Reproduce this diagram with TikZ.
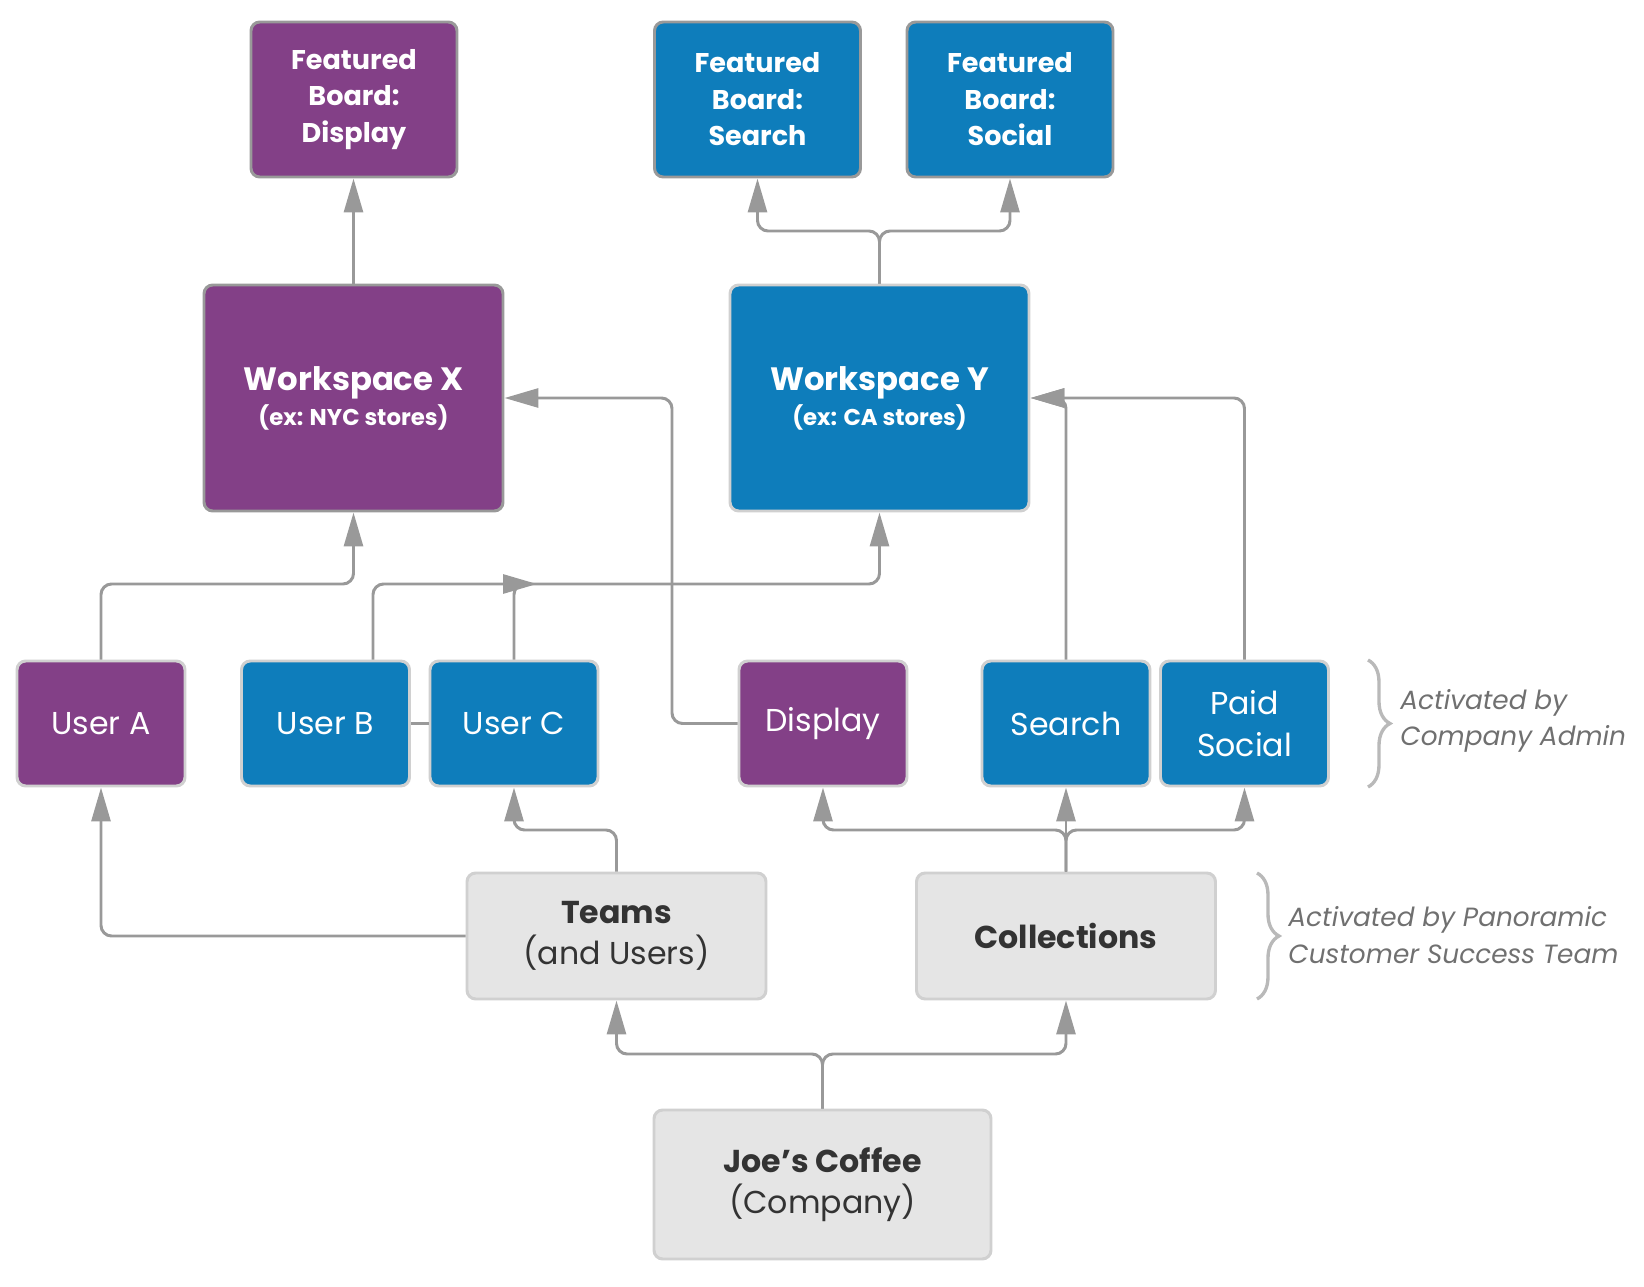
\documentclass[tikz,border=0pt]{standalone}
\usepackage{fontspec}
\setmainfont{Poppins}
\usetikzlibrary{arrows.meta,positioning,decorations.pathreplacing}
\definecolor{plum}{RGB}{131,64,135}
\definecolor{ocean}{RGB}{14,125,187}
\definecolor{ink}{RGB}{51,51,51}
\definecolor{wire}{RGB}{153,153,153}
\definecolor{rim}{RGB}{208,208,208}
\definecolor{paper}{RGB}{229,229,229}
\definecolor{remark}{RGB}{112,112,112}
\definecolor{bracket}{RGB}{185,185,185}
\tikzset{
  >={Triangle[length=3.4mm,width=1.9mm]},
  flow/.style={->,draw=wire,line width=0.85pt,rounded corners=3pt},
  link/.style={draw=wire,line width=0.85pt},
  tile/.style={fill=#1,draw=rim,line width=0.85pt,rounded corners=2.5pt,text=white,
    align=center,inner sep=2pt,minimum width=16.8mm,minimum height=12.5mm,
    font=\fontsize{9}{11.8}\selectfont},
  tile/.default=ocean,
  board/.style={tile=#1,draw=wire,minimum width=20.6mm,minimum height=15.5mm,
    font=\bfseries\fontsize{7.7}{10.4}\selectfont},
  space/.style={tile=#1,minimum width=29.9mm,minimum height=22.6mm,
    font=\bfseries\fontsize{6.5}{10}\selectfont},
  grey box/.style={tile=paper,text=ink,minimum width=29.9mm,minimum height=12.6mm},
  note/.style={font=\itshape\fontsize{7.5}{10.4}\selectfont,text=remark,align=left,anchor=west},
  curly/.style={decorate,decoration={brace,amplitude=2.2mm},draw=bracket,line width=0.95pt},
}
\begin{document}
\begin{tikzpicture}
  \useasboundingbox (0,0) rectangle (16.44,12.86);
  % featured boards
  \node[board=plum] (fbDisp) at (3.54,11.865) {Featured\\Board:\\Display};
  \node[board=ocean] (fbSearch) at (7.575,11.865) {Featured\\Board:\\Search};
  \node[board=ocean] (fbSocial) at (10.10,11.865) {Featured\\Board:\\Social};
  % workspaces
  \node[space=plum,draw=wire] (wsX) at (3.535,8.88) {{\fontsize{9.2}{12}\selectfont Workspace X}\\(ex: NYC stores)};
  \node[space=ocean] (wsY) at (8.795,8.88) {{\fontsize{9.2}{12}\selectfont Workspace Y}\\(ex: CA stores)};
  % users and collections
  \node[tile=plum] (userA) at (1.01,5.625) {User A};
  \node[tile=ocean] (userB) at (3.255,5.625) {User B};
  \node[tile=ocean] (userC) at (5.14,5.625) {User C};
  \node[tile=plum] (disp) at (8.23,5.625) {Display};
  \node[tile=ocean] (search) at (10.66,5.625) {Search};
  \node[tile=ocean] (paid) at (12.445,5.625) {Paid\\Social};
  % admin level
  \node[grey box] (teams) at (6.165,3.50) {\textbf{Teams}\\(and Users)};
  \node[grey box] (coll) at (10.66,3.50) {\textbf{Collections}};
  \node[grey box,minimum width=33.7mm,minimum height=14.9mm] (joe) at (8.225,1.015) {\textbf{Joe's Coffee}\\(Company)};

  \coordinate (toplvl) at (0,10.55);
  \coordinate (uplvl) at (0,7.02);
  \coordinate (midlvl) at (0,4.56);
  \coordinate (botlvl) at (0,2.32);
  \coordinate (bcTip) at (5.37,7.02);

  \draw[flow] (wsX.north) -- (wsX.north |- fbDisp.south);
  \draw[flow] (wsY.north) |- (fbSearch.south |- toplvl) -- (fbSearch.south);
  \draw[flow] (wsY.north) |- (fbSocial.south |- toplvl) -- (fbSocial.south);
  \draw[flow] (userA.north) |- (wsX.south |- uplvl) -- (wsX.south);
  \draw[flow] ([xshift=4.75mm]userB.north) |- (bcTip);
  \draw[flow] (userC.north) |- (wsY.south |- uplvl) -- (wsY.south);
  \draw[link] (userB) -- (userC);
  \draw[flow] (disp.west) -| (wsX.east -| 6.72,0) -- (wsX.east);
  \draw[flow] (search.north) |- (wsY.east);
  \draw[flow] (paid.north) |- (wsY.east);
  \draw[flow] (teams.west) -| (userA.south);
  \draw[flow] (teams.north) |- (userC.south |- midlvl) -- (userC.south);
  \draw[flow] (coll.north) |- (disp.south |- midlvl) -- (disp.south);
  \draw[flow] (coll.north) -- (search.south);
  \draw[flow] (coll.north) |- (paid.south |- midlvl) -- (paid.south);
  \draw[flow] (joe.north) |- (teams.south |- botlvl) -- (teams.south);
  \draw[flow] (joe.north) |- (coll.south |- botlvl) -- (coll.south);

  % who activates what
  \draw[curly] (13.68,6.26) -- (13.68,4.99);
  \draw[curly] (12.57,4.13) -- (12.57,2.87);
  \node[note] (adminNote) at (13.88,5.65) {Activated by\\Company Admin};
  \node[note] (csNote) at (12.76,3.51) {Activated by Panoramic\\Customer Success Team};
\end{tikzpicture}
\end{document}
